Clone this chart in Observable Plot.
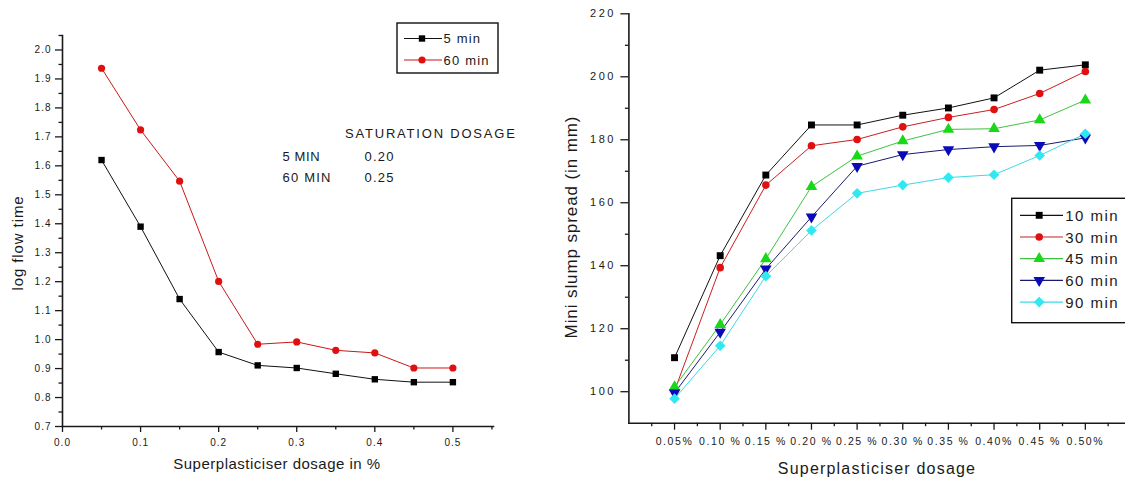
<!DOCTYPE html>
<html><head><meta charset="utf-8">
<script src="https://cdn.jsdelivr.net/npm/d3@7"></script>
<script src="https://cdn.jsdelivr.net/npm/@observablehq/plot@0.6"></script>
<style>
body{margin:0;background:#fff;width:1125px;height:482px;overflow:hidden;position:relative;font-family:"Liberation Sans",Arial,sans-serif;}
.abs{position:absolute;top:0;}
#left svg g[aria-label="y-axis tick label"] text,#left svg g[aria-label="x-axis tick label"] text{letter-spacing:1px;}
#right svg g[aria-label="y-axis tick label"] text{letter-spacing:2.5px;}
#right svg g[aria-label="x-axis tick label"] text{letter-spacing:1.6px;}
#overlay{position:absolute;left:0;top:0;pointer-events:none;}
</style></head><body>
<div id="left" class="abs" style="left:0"></div>
<div id="right" class="abs" style="left:540px"></div>
<svg id="overlay" width="1125" height="482"></svg>
<script>
// ---------- data: left panel ----------
const dosagePct = [0.05, 0.10, 0.15, 0.20, 0.25, 0.30, 0.35, 0.40, 0.45, 0.50];
const logFlow5 = [1.62, 1.39, 1.14, 0.957, 0.911, 0.902, 0.882, 0.863, 0.853, 0.853];
const logFlow60 = [1.937, 1.724, 1.547, 1.201, 0.984, 0.992, 0.963, 0.954, 0.902, 0.902];
const leftSeries = ["5 min", "60 min"];
const leftYTicks = [0.7, 0.8, 0.9, 1.0, 1.1, 1.2, 1.3, 1.4, 1.5, 1.6, 1.7, 1.8, 1.9, 2.0];
const leftYMinor = [0.75, 0.85, 0.95, 1.05, 1.15, 1.25, 1.35, 1.45, 1.55, 1.65, 1.75, 1.85, 1.95, 2.05];
const leftXTicks = [0.0, 0.1, 0.2, 0.3, 0.4, 0.5];
const leftXMinor = [0.05, 0.15, 0.25, 0.35, 0.45, 0.55];

// ---------- data: right panel ----------
const dosageLabels = ["0.05%", "0.10 %", "0.15 %", "0.20 %", "0.25 %", "0.30 %", "0.35 %", "0.40%", "0.45 %", "0.50%"];
const rightSeries = ["10 min", "30 min", "45 min", "60 min", "90 min"];
const spread10 = [110.8, 143.2, 168.8, 184.7, 184.7, 187.8, 190.1, 193.3, 202.1, 203.8];
const spread30 = [100.3, 139.4, 165.6, 178.1, 180.1, 184.1, 187.1, 189.6, 194.7, 201.7];
const spread45 = [101.5, 121.3, 142.2, 165.1, 174.8, 179.6, 183.3, 183.5, 186.3, 192.6];
const spread60 = [99.6, 118.9, 139.0, 155.5, 171.6, 175.3, 176.9, 177.8, 178.2, 180.6];
const spread90 = [97.8, 114.6, 136.7, 151.2, 163.0, 165.6, 168.0, 168.9, 175.0, 181.9];
const rightYTicks = [100, 120, 140, 160, 180, 200, 220];
const rightYMinor = [110, 130, 150, 170, 190, 210];

const FONT = '"Liberation Sans", Arial, sans-serif';
const AX = "#1a1a1a";

// ---------- left plot ----------
const leftData = [logFlow5, logFlow60];
const leftStyle = [
  {series: "5 min", stroke: "#111", fill: "#000", symbol: "square", r: 3.6},
  {series: "60 min", stroke: "#c81818", fill: "#e01010", symbol: "circle", r: 3.6}
];
const leftRows = leftSeries.map((s, k) => dosagePct.map((x, i) => ({x, y: leftData[k][i], s})));

const leftPlot = Plot.plot({
  width: 520, height: 482,
  marginLeft: 62, marginRight: 27, marginTop: 35, marginBottom: 56,
  x: {domain: [0, 0.552], label: null},
  y: {domain: [0.7, 2.05], label: null},
  style: {fontFamily: FONT, fontSize: "10px", color: AX, background: "transparent"},
  marks: [
    Plot.axisY(leftYTicks, {label: null, tickSize: 7, tickPadding: 4, tickFormat: d => d.toFixed(1), stroke: AX, strokeWidth: 1.3}),
    Plot.axisY(leftYMinor, {label: null, tickSize: 3.5, text: null, stroke: AX, strokeWidth: 1.3}),
    Plot.axisX(leftXTicks, {label: null, tickSize: 6, tickPadding: 6, tickFormat: d => d.toFixed(1), stroke: AX, strokeWidth: 1.3}),
    Plot.axisX(leftXMinor, {label: null, tickSize: 3.5, text: null, stroke: AX, strokeWidth: 1.3}),
    Plot.frame({anchor: "left", stroke: AX, strokeWidth: 1.6}),
    Plot.frame({anchor: "bottom", stroke: AX, strokeWidth: 1.6}),
    ...leftRows.map((rows, k) => Plot.line(rows, {x: "x", y: "y", stroke: leftStyle[k].stroke, strokeWidth: 1})),
    ...leftRows.map((rows, k) => Plot.dot(rows, {x: "x", y: "y", symbol: leftStyle[k].symbol, fill: leftStyle[k].fill, stroke: "none", r: leftStyle[k].r}))
  ]
});
document.getElementById("left").appendChild(leftPlot);

// ---------- right plot ----------
const rightData = [spread10, spread30, spread45, spread60, spread90];
const rightStyle = [
  {stroke: "#111", fill: "#000", symbol: "square", r: 3.9, rotate: 0},
  {stroke: "#c82020", fill: "#e01010", symbol: "circle", r: 3.8, rotate: 0},
  {stroke: "#3ec23e", fill: "#18d818", symbol: "triangle", r: 4.3, rotate: 0},
  {stroke: "#1a1a70", fill: "#0a0ab8", symbol: "triangle", r: 4.3, rotate: 180},
  {stroke: "#40d8e4", fill: "#30e8f0", symbol: "diamond2", r: 4.8, rotate: 0}
];
const rightRows = rightSeries.map((s, k) => dosageLabels.map((lab, i) => ({x: i + 1, y: rightData[k][i], s, lab})));

const rightPlot = Plot.plot({
  width: 585, height: 482,
  marginLeft: 88.4, marginRight: 0, marginTop: 13.3, marginBottom: 59.3,
  x: {domain: [0, 10.88], label: null},
  y: {domain: [90, 220], label: null},
  style: {fontFamily: FONT, fontSize: "10.5px", color: AX, background: "transparent"},
  marks: [
    Plot.axisY(rightYTicks, {label: null, tickSize: 8, tickPadding: 5, stroke: AX, strokeWidth: 1.3, fontSize: 11}),
    Plot.axisY(rightYMinor, {label: null, tickSize: 3.5, text: null, stroke: AX, strokeWidth: 1.3}),
    Plot.axisX(d3.range(1, 11), {label: null, tickSize: 7, tickPadding: 7, tickFormat: i => dosageLabels[i - 1], stroke: AX, strokeWidth: 1.3}),
    Plot.axisX(d3.range(0.5, 11, 1), {label: null, tickSize: 3.5, text: null, stroke: AX, strokeWidth: 1.3}),
    Plot.frame({anchor: "left", stroke: AX, strokeWidth: 1.6}),
    Plot.frame({anchor: "bottom", stroke: AX, strokeWidth: 1.6}),
    ...rightRows.map((rows, k) => Plot.line(rows, {x: "x", y: "y", stroke: rightStyle[k].stroke, strokeWidth: 1})),
    ...rightRows.map((rows, k) => Plot.dot(rows, {x: "x", y: "y", symbol: rightStyle[k].symbol, rotate: rightStyle[k].rotate, fill: rightStyle[k].fill, stroke: "none", r: rightStyle[k].r}))
  ]
});
document.getElementById("right").appendChild(rightPlot);

// ---------- overlay: titles, annotation, legends ----------
const ov = d3.select("#overlay").style("font-family", FONT);
function txt(x, y, s, size, ls, opts = {}) {
  const t = ov.append("text").attr("x", x).attr("y", y).attr("dominant-baseline", "central")
    .attr("fill", AX).style("font-size", size + "px").style("letter-spacing", ls + "px")
    .attr("text-anchor", opts.anchor || "start").text(s);
  if (opts.rotate) t.attr("transform", `rotate(${opts.rotate},${x},${y})`);
  return t;
}
// axis titles
txt(17, 243, "log flow time", 15, 0.9, {anchor: "middle", rotate: -90});
txt(277, 463, "Superplasticiser dosage in %", 15, 0.5, {anchor: "middle"});
txt(571, 227, "Mini slump spread (in mm)", 17, 0.9, {anchor: "middle", rotate: -90});
txt(877, 468, "Superplasticiser dosage", 16, 1.2, {anchor: "middle"});
// saturation annotation
const satHead = "SATURATION DOSAGE";
const satRows = [["5 MIN", "0.20"], ["60 MIN", "0.25"]];
txt(345, 133, satHead, 13, 1.8);
satRows.forEach((r, i) => {
  txt(282.5, 156 + i * 21, r[0], 13, i === 0 ? 0.6 : 1.2);
  txt(364.5, 156 + i * 21, r[1], 13, 1.2);
});

function legend(x0, y0, w, h, series, styles, opt) {
  ov.append("rect").attr("x", x0).attr("y", y0).attr("width", w).attr("height", h)
    .attr("fill", "#fff").attr("stroke", "#111").attr("stroke-width", 1.4);
  const symMap = {square: d3.symbolSquare, circle: d3.symbolCircle, triangle: d3.symbolTriangle, diamond2: d3.symbolDiamond2};
  series.forEach((s, i) => {
    const y = y0 + opt.first + i * opt.step;
    const st = styles[i];
    ov.append("line").attr("x1", x0 + opt.lx1).attr("x2", x0 + opt.lx2).attr("y1", y).attr("y2", y)
      .attr("stroke", st.stroke).attr("stroke-width", 1.2);
    const size = Math.PI * st.r * st.r;
    ov.append("path").attr("d", d3.symbol(symMap[st.symbol], size)())
      .attr("transform", `translate(${x0 + opt.mx},${y}) rotate(${st.rotate || 0})`)
      .attr("fill", st.fill);
    txt(x0 + opt.tx, y, s, opt.size, opt.ls);
  });
}
legend(397, 23, 101, 50, leftSeries, leftStyle, {first: 15.5, step: 21.5, lx1: 7, lx2: 45, mx: 25, tx: 46.5, size: 13, ls: 1.2});
legend(1011.7, 198.3, 130, 124.4, rightSeries, rightStyle, {first: 17, step: 21.7, lx1: 8.3, lx2: 51.3, mx: 27.5, tx: 53.5, size: 15, ls: 1.5});
</script>
</body></html>
